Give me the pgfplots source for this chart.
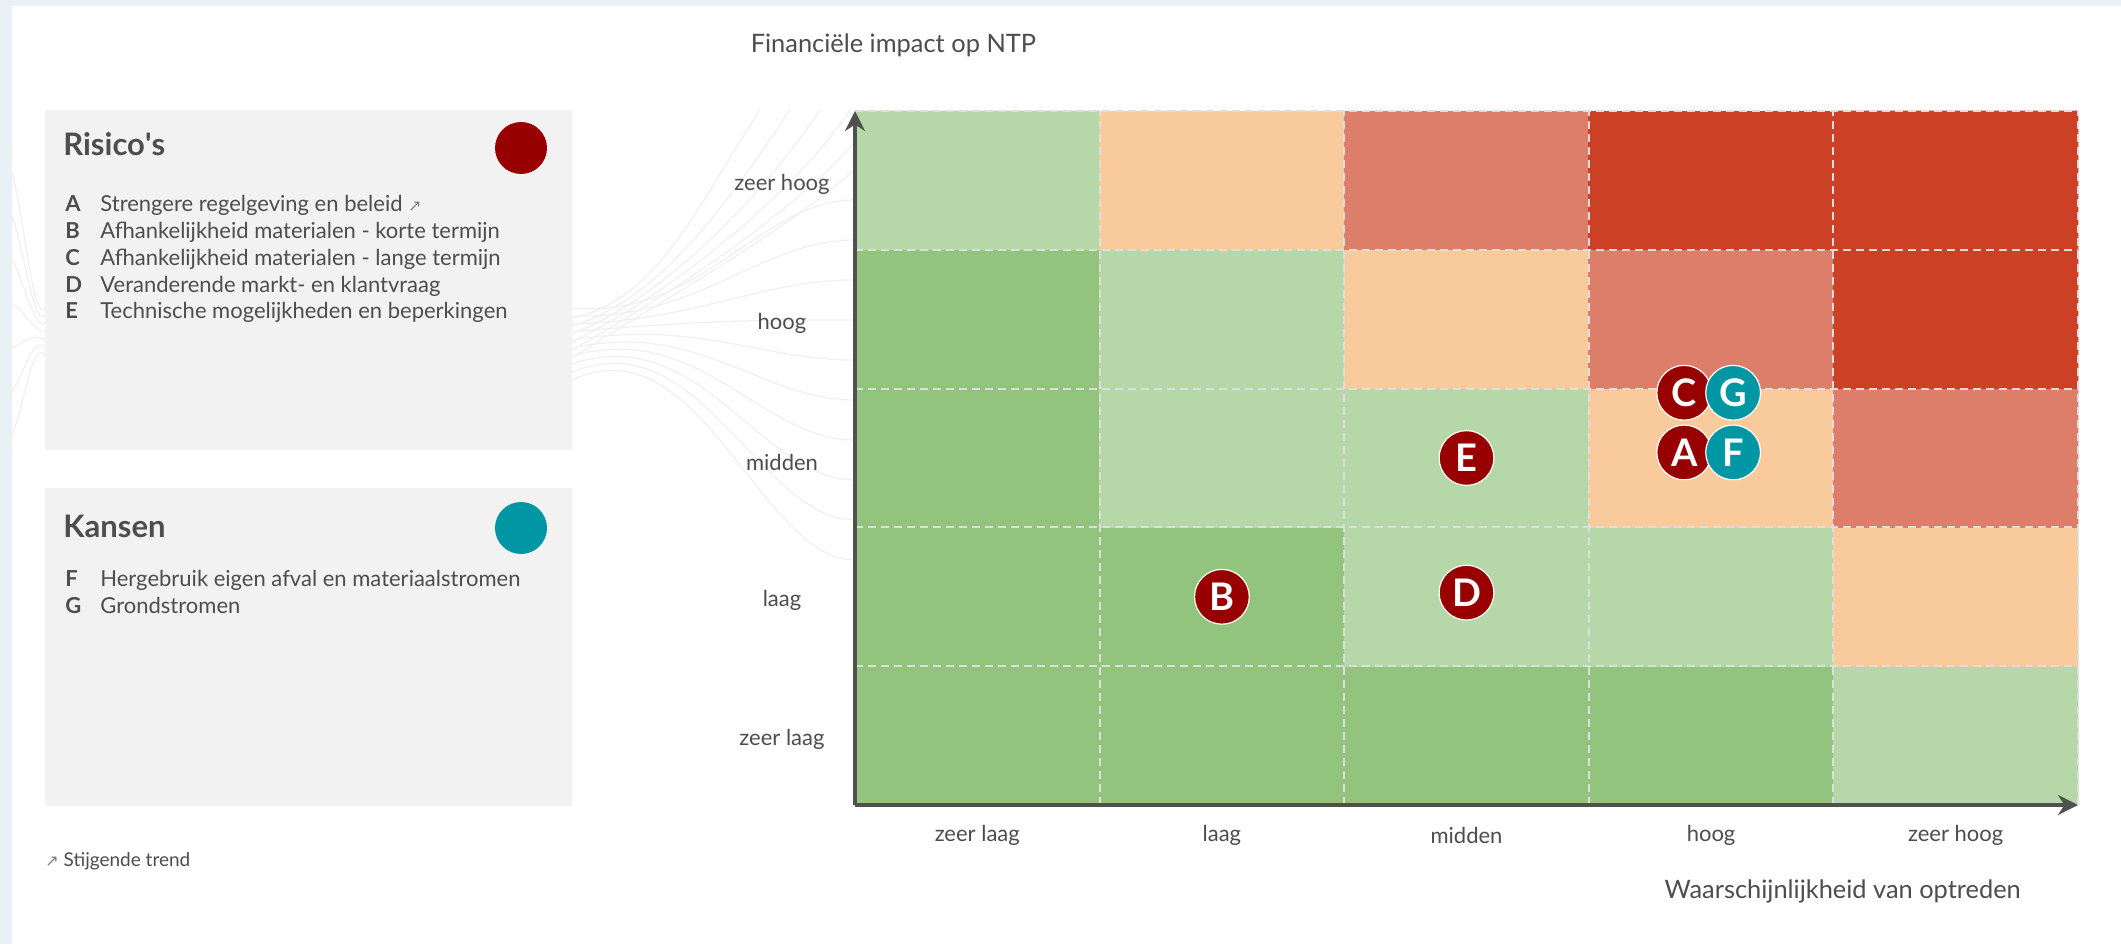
\documentclass[border=0pt]{standalone}
\usepackage{pgfplots}
\pgfplotsset{compat=1.18}
\usepackage{pgfplotstable}
\usepackage{fontspec}
\setmainfont{Lato}
\newfontfamily\symfont{DejaVu Sans}
\usetikzlibrary{arrows.meta}

\definecolor{txt}{RGB}{77,77,77}
\definecolor{axcol}{RGB}{80,80,80}
\definecolor{boxbg}{RGB}{242,242,242}
\definecolor{framebg}{RGB}{232,241,245}
\definecolor{riskred}{RGB}{152,0,0}
\definecolor{kansteal}{RGB}{0,150,164}
\definecolor{gridln}{RGB}{222,222,222}
\definecolor{swoosh}{RGB}{240,240,242}

% cell colour index: 0 green, 1 light green, 2 peach, 3 salmon, 4 red
\pgfplotstableread{
x   y   c
0.5 0.5 0
1.5 0.5 0
2.5 0.5 0
3.5 0.5 0
4.5 0.5 1
0.5 1.5 0
1.5 1.5 0
2.5 1.5 1
3.5 1.5 1
4.5 1.5 2
0.5 2.5 0
1.5 2.5 1
2.5 2.5 1
3.5 2.5 2
4.5 2.5 3
0.5 3.5 0
1.5 3.5 1
2.5 3.5 2
3.5 3.5 3
4.5 3.5 4
0.5 4.5 1
1.5 4.5 2
2.5 4.5 3
3.5 4.5 4
4.5 4.5 4
}\cells

\pgfplotstableread{
x    y    lab
3.39 2.54 A
1.50 1.50 B
3.39 2.97 C
2.50 1.53 D
2.50 2.50 E
}\risicos

\pgfplotstableread{
x    y    lab
3.59 2.54 F
3.59 2.97 G
}\kansen

\begin{document}
\begin{tikzpicture}
\useasboundingbox (0,0) rectangle (1060.5pt,472pt);

% page background, in pixel units of the reference (y down)
\begin{scope}[x=0.5pt, y=-0.5pt, shift={(0pt,472pt)}]
  \fill[white] (0,0) rectangle (2121,944);
  \fill[framebg] (0,0) rectangle (2121,6);
  \fill[framebg] (0,0) rectangle (12,944);

  % faint background swooshes
  \foreach \t [count=\k] in {200,240,280,320,360,400,440,480,520,560}
    \draw[swoosh, line width=0.6pt] (572,300+8*\k) .. controls (700,320) and (760,\t) .. (855,\t);
  \foreach \t [count=\k] in {700,730,760,790,820,850}
    \draw[swoosh, line width=0.6pt] (572,310+8*\k) .. controls (660,300) and (\t,200) .. (\t+60,110);
  \foreach \t [count=\k] in {150,200,250,300,350,400,450}
    \draw[swoosh, line width=0.6pt] (45,300+8*\k) .. controls (30,330) and (20,\t) .. (0,\t);

  % Risico's box
  \fill[boxbg] (45,110) rectangle (572,450);
  \node[anchor=base west, inner sep=0, text=txt,
        font=\fontsize{15.5}{18}\selectfont\bfseries] at (63,156) {Risico\textquotesingle s};
  \fill[riskred] (521,148) circle (13pt);
  \begin{scope}[every node/.style={anchor=base west, inner sep=0, text=txt,
                font=\fontsize{11}{13}\selectfont}]
    \node[font=\fontsize{11}{13}\selectfont\bfseries] at (65,212) {A};
    \node at (100,212) {Strengere regelgeving en beleid {\color{gray}\symfont\fontsize{8}{10}\selectfont↗}};
    \node[font=\fontsize{11}{13}\selectfont\bfseries] at (65,238.75) {B};
    \node at (100,238.75) {Afhankelijkheid materialen - korte termijn};
    \node[font=\fontsize{11}{13}\selectfont\bfseries] at (65,265.5) {C};
    \node at (100,265.5) {Afhankelijkheid materialen - lange termijn};
    \node[font=\fontsize{11}{13}\selectfont\bfseries] at (65,292.25) {D};
    \node at (100,292.25) {Veranderende markt- en klantvraag};
    \node[font=\fontsize{11}{13}\selectfont\bfseries] at (65,319) {E};
    \node at (100,319) {Technische mogelijkheden en beperkingen};
  \end{scope}

  % Kansen box
  \fill[boxbg] (45,488) rectangle (572,806);
  \node[anchor=base west, inner sep=0, text=txt,
        font=\fontsize{15.5}{18}\selectfont\bfseries] at (63,537) {Kansen};
  \fill[kansteal] (521,528) circle (13pt);
  \begin{scope}[every node/.style={anchor=base west, inner sep=0, text=txt,
                font=\fontsize{11}{13}\selectfont}]
    \node[font=\fontsize{11}{13}\selectfont\bfseries] at (65,586) {F};
    \node at (100,586) {Hergebruik eigen afval en materiaalstromen};
    \node[font=\fontsize{11}{13}\selectfont\bfseries] at (65,613) {G};
    \node at (100,613) {Grondstromen};
  \end{scope}

  \node[anchor=base west, inner sep=0, text=txt, font=\fontsize{9.5}{11}\selectfont]
    at (45,866) {{\color{gray}\symfont\fontsize{8}{10}\selectfont↗} Stijgende trend};
\end{scope}

\begin{axis}[
  at={(427.5pt,69.5pt)}, anchor=south west,
  width=611.5pt, height=347pt, scale only axis,
  xmin=0, xmax=5, ymin=0, ymax=5,
  axis on top,
  axis lines=left,
  axis line style={draw=axcol, line width=2pt, -{Stealth[length=10pt, width=10pt]}},
  colormap={risk}{rgb255=(147,196,125) rgb255=(182,215,168) rgb255=(249,203,156) rgb255=(221,126,107) rgb255=(204,65,37)},
  colormap access=direct,
  xtick={0.5,1.5,2.5,3.5,4.5},
  ytick={0.5,1.5,2.5,3.5,4.5},
  xticklabels={zeer laag, laag, midden, hoog, zeer hoog},
  yticklabels={zeer laag, laag, midden, hoog, zeer hoog},
  major tick length=0pt,
  tick label style={font=\fontsize{11}{13}\selectfont, text=txt},
  xticklabel style={anchor=center, yshift=-15pt},
  yticklabel style={anchor=center, xshift=-36.5pt, yshift=-2pt},
  ylabel={Financiële impact op NTP},
  xlabel={Waarschijnlijkheid van optreden},
  every axis y label/.style={at={(axis description cs:-0.091,1.095)}, anchor=west,
    font=\fontsize{12.7}{15}\selectfont, text=txt},
  every axis x label/.style={at={(axis description cs:0.959,-0.124)}, anchor=east,
    font=\fontsize{12.7}{15}\selectfont, text=txt},
  clip=false,
]
  \addplot[matrix plot*, mesh/cols=5, point meta=explicit] table[meta=c] {\cells};

  % dashed cell borders
  \pgfplotsinvokeforeach{1,2,3,4,5}{
    \draw[gridln, line width=1pt, dash pattern=on 4pt off 2.5pt] (axis cs:#1,0) -- (axis cs:#1,5);
    \draw[gridln, line width=1pt, dash pattern=on 4pt off 2.5pt] (axis cs:0,#1) -- (axis cs:5,#1);
  }

  \addplot[only marks, mark=*, mark size=13.7pt,
    mark options={fill=riskred, draw=white, line width=0.6pt},
    point meta=explicit symbolic, nodes near coords,
    every node near coord/.style={anchor=center, text=white,
      font=\fontsize{19}{19}\selectfont\bfseries}]
    table[meta=lab] {\risicos};

  \addplot[only marks, mark=*, mark size=13.7pt,
    mark options={fill=kansteal, draw=white, line width=0.6pt},
    point meta=explicit symbolic, nodes near coords,
    every node near coord/.style={anchor=center, text=white,
      font=\fontsize{19}{19}\selectfont\bfseries}]
    table[meta=lab] {\kansen};
\end{axis}
\end{tikzpicture}
\end{document}
